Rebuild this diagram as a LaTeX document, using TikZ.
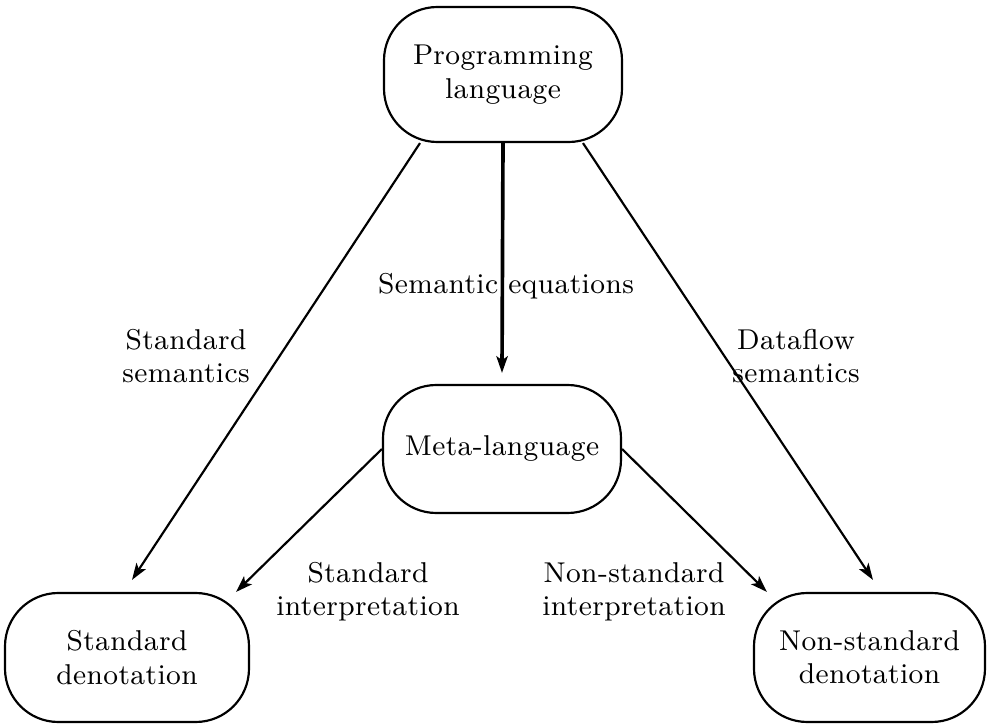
\documentclass[tikz,border=0pt]{standalone}
\usepackage{fontspec}
\setmainfont{Latin Modern Roman}[LetterSpace=1.5]
\usetikzlibrary{arrows.meta,calc}
\begin{document}
\begin{tikzpicture}[x=0.3pt,y=-0.3pt,
  box/.style={draw,line width=0.65pt,rounded corners=16pt,align=center,inner sep=0pt},
  lbl/.style={align=center,inner sep=0pt},
  arr/.style={line width=0.65pt,-{Stealth[length=5pt,width=3.4pt,inset=1.2pt]}},
  every node/.append style={font=\fontsize{8.6pt}{10pt}\selectfont}]
\useasboundingbox (0,0) rectangle (987,725);
\node[box,minimum width=71.4pt,minimum height=40.5pt] (pl) at (503,74.5) {Programming\\language};
\node[box,minimum width=71.4pt,minimum height=38.4pt] (ml) at (502,449) {Meta-language};
\node[box,minimum width=73.2pt,minimum height=38.7pt] (sd) at (127,657.5) {Standard\\denotation};
\node[box,minimum width=69.3pt,minimum height=38.7pt] (nsd) at (869.5,657.5) {Non-standard\\denotation};
\draw[arr,line width=1.1pt] (pl.south) -- ($(ml.north)+(0,-11)$);
\draw[arr] ($(pl.south)+(-83,0)$) -- ($(sd.north)+(5,-12)$);
\draw[arr] ($(pl.south)+(80,0)$) -- ($(nsd.north)+(3.5,-12)$);
\draw[arr] (ml.west) -- ($(sd.north east)+(-14,0)$);
\draw[arr] (ml.east) -- ($(nsd.north west)+(14,0)$);
\node[lbl] (se) at (506,286) {Semantic equations};
\node[lbl] (ss) at (186,356) {Standard\\semantics};
\node[lbl] (ds) at (796,356) {Dataflow\\semantics};
\node[lbl] (si) at (368,592) {Standard\\interpretation};
\node[lbl] (ni) at (634,592) {Non-standard\\interpretation};
\end{tikzpicture}
\end{document}
